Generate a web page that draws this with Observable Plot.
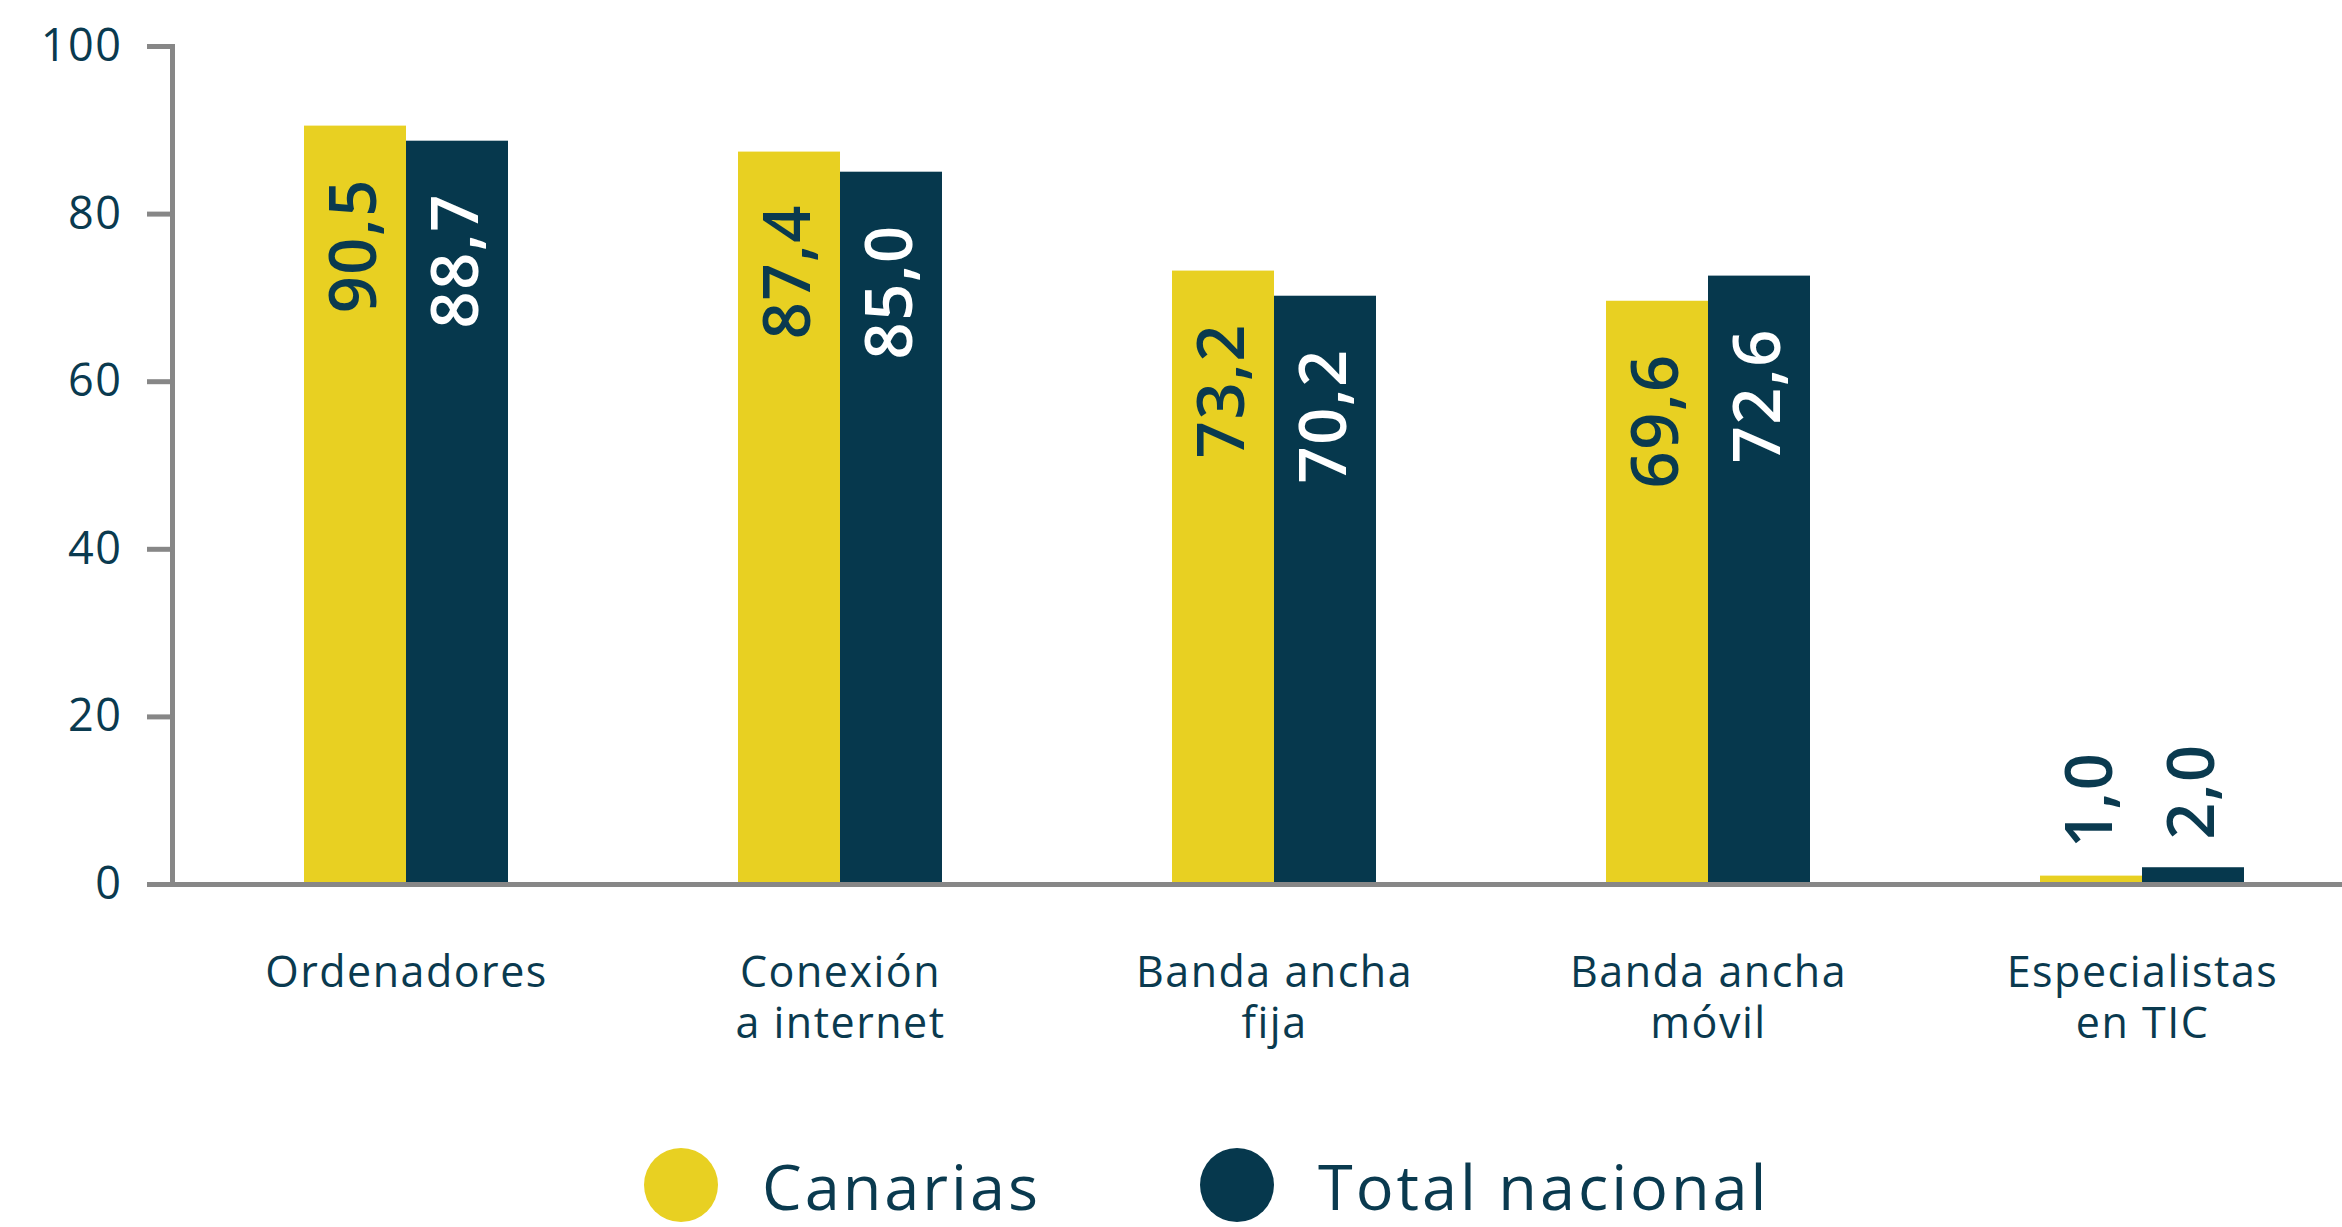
<!DOCTYPE html>
<html><head><meta charset="utf-8">
<script src="https://cdn.jsdelivr.net/npm/d3@7"></script>
<script src="https://cdn.jsdelivr.net/npm/@observablehq/plot@0.6"></script>
<style>
html,body{margin:0;padding:0;background:#fff;overflow:hidden;width:2342px;height:1227px}
#chart svg text{letter-spacing:1.5px}
#chart svg text.val{letter-spacing:1.5px}
#legend{display:flex;align-items:center;height:110px;padding-left:644px;font-family:'Open Sans',sans-serif;font-size:63px;color:#0A3A4F;letter-spacing:3px}
#legend span.lab{line-height:1}
.sw{width:74px;height:74px;border-radius:50%;margin-right:44px;flex:none}
.item{display:flex;align-items:center;margin-right:159px}
</style></head>
<body><div id="chart"></div><div id="legend"></div>
<script>
const categories = ["Ordenadores", "Conexión\na internet", "Banda ancha\nfija", "Banda ancha\nmóvil", "Especialistas\nen TIC"];
const series = ["Canarias", "Total nacional"];
const canarias = [90.5, 87.4, 73.2, 69.6, 1.0];
const totalNacional = [88.7, 85.0, 70.2, 72.6, 2.0];
const yTicks = [0, 20, 40, 60, 80, 100];
const colors = ["#E8D022", "#06384D"];
const navy = "#0A3A4F";
const gray = "#878787";

const rows = categories.flatMap((c, i) => [
  {category: c, series: series[0], value: canarias[i]},
  {category: c, series: series[1], value: totalNacional[i]}
]);
const fmt = d3.formatLocale({decimal: ",", thousands: ".", grouping: [3], currency: ["", "€"]}).format(".1f");
const inside = d => d.value >= 10;
const valueText = {fx: "category", x: "series", y: "value", text: d => fmt(d.value),
  rotate: -90, lineAnchor: "middle", fontSize: 65, fontWeight: 600, className: "val"};

const plot = Plot.plot({
  width: 2342, height: 1130,
  marginLeft: 172, marginRight: 0, marginTop: 46, marginBottom: 246,
  style: {fontFamily: "'Open Sans', sans-serif", background: "#fff", overflow: "visible"},
  fx: {domain: categories, padding: 0, label: null},
  x: {domain: series, paddingInner: 0, paddingOuter: 1.127, align: 0.574, axis: null},
  y: {domain: [0, 100], axis: null},
  color: {domain: series, range: colors},
  marks: [
    Plot.barY(rows, {fx: "category", x: "series", y: "value", fill: "series"}),
    Plot.text(rows.filter(d => inside(d) && d.series === series[0]), {
      ...valueText, textAnchor: "end", dy: 52, fill: navy
    }),
    Plot.text(rows.filter(d => inside(d) && d.series === series[1]), {
      ...valueText, textAnchor: "end", dy: 52, fill: "#ffffff"
    }),
    Plot.text(rows.filter(d => !inside(d)), {
      ...valueText, textAnchor: "start", dy: -28, fill: navy
    }),
    Plot.ruleY([0], {stroke: gray, strokeWidth: 5}),
    Plot.frame({anchor: "left", facetAnchor: "left", stroke: gray, strokeWidth: 5}),
    Plot.axisY({ticks: yTicks, tickSize: 25, tickPadding: 25, stroke: gray, strokeWidth: 5, fill: navy, fontSize: 45, tickFormat: d => String(d), label: null}),
    Plot.axisFx({anchor: "bottom", tickSize: 0, tickPadding: 66, dx: 17, fontSize: 43, lineHeight: 1.19, fill: navy, label: null})
  ]
});
document.getElementById("chart").appendChild(plot);

const legend = document.getElementById("legend");
series.forEach((s, i) => {
  const item = document.createElement("div");
  item.className = "item";
  const sw = document.createElement("span");
  sw.className = "sw";
  sw.style.background = colors[i];
  const label = document.createElement("span");
  label.className = "lab";
  label.textContent = s;
  item.appendChild(sw);
  item.appendChild(label);
  legend.appendChild(item);
});
</script>
</body></html>
